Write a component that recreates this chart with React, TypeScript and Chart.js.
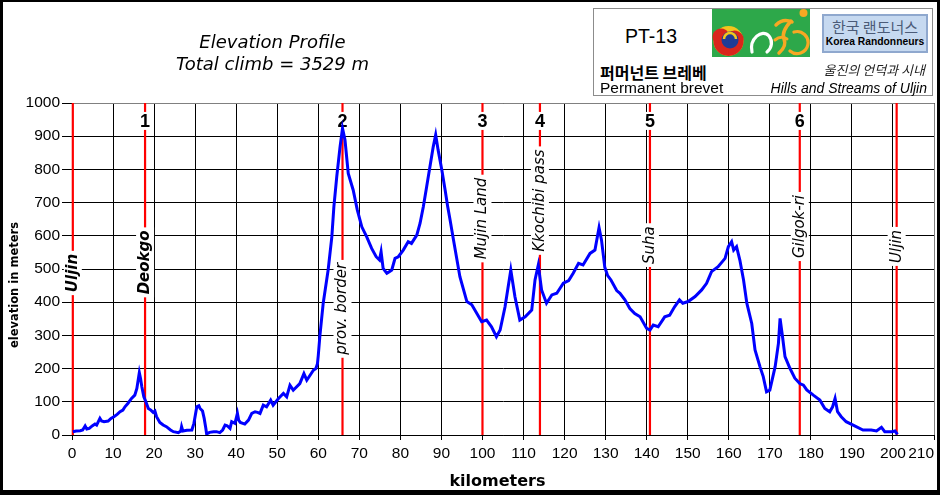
import React, { useEffect, useRef } from 'react';
import { Chart, registerables } from 'chart.js';

Chart.register(...registerables);

// ---- data ----
const PROFILE_KM = [
  0.2, 1.0, 2.0, 2.6, 3.2, 3.6, 4.2, 5.0, 5.6, 6.0, 6.8, 7.2, 7.8, 8.8, 9.5, 10.2, 11.0, 11.7, 12.4, 12.9,
  13.6, 14.5, 15.3, 15.8, 16.4, 16.7, 17.0, 17.5, 18.0, 18.6, 19.2, 19.8, 20.2, 20.6, 21.4, 22.2, 23.0, 24.0, 24.7, 25.9,
  26.5, 26.7, 27.0, 28.0, 29.2, 29.7, 30.4, 30.9, 31.2, 31.8, 32.2, 32.6, 32.8, 33.5, 34.5, 35.2, 36.0, 36.7, 37.3, 37.8,
  38.5, 38.9, 39.7, 40.3, 40.6, 41.0, 42.1, 43.0, 43.8, 44.6, 45.2, 45.8, 46.6, 47.4, 48.4, 49.0, 50.3, 51.5, 52.3, 53.1,
  53.9, 55.5, 56.5, 57.2, 58.0, 58.8, 59.4, 59.8, 60.0, 60.4, 61.2, 62.4, 63.3, 63.8, 64.5, 65.3, 65.9, 66.5, 67.3, 68.5,
  69.5, 70.6, 71.8, 73.0, 74.1, 74.9, 75.3, 75.8, 76.7, 77.3, 77.9, 78.7, 79.5, 80.7, 81.9, 82.7, 84.0, 84.8, 85.6, 86.4,
  87.2, 88.0, 88.6, 89.2, 90.1, 90.9, 91.5, 92.1, 92.9, 94.5, 96.2, 97.4, 98.6, 99.8, 101.0, 102.2, 103.4, 104.3, 105.5, 106.9,
  107.9, 109.1, 110.4, 112.0, 112.8, 113.6, 114.4, 115.6, 116.9, 118.1, 119.7, 121.0, 122.1, 123.4, 124.5, 126.2, 127.4, 128.4, 129.0, 129.8,
  130.5, 131.3, 132.7, 133.5, 134.7, 135.9, 137.1, 138.4, 140.0, 140.8, 141.6, 142.8, 144.4, 145.6, 146.8, 148.0, 148.8, 150.1, 151.8, 153.4,
  154.6, 155.8, 157.4, 159.1, 159.9, 160.7, 161.2, 161.9, 162.7, 163.6, 164.4, 165.6, 166.4, 167.6, 168.4, 169.2, 170.0, 171.3, 172.1, 172.5,
  173.1, 173.7, 174.9, 176.1, 177.3, 178.2, 179.0, 180.6, 182.2, 183.4, 184.6, 185.3, 185.9, 186.5, 187.4, 188.6, 190.3, 192.7, 194.7, 196.0,
  197.2, 198.0, 199.7, 200.5, 201.1,
];
const PROFILE_ELEV = [
  10, 12, 13, 15, 27, 18, 20, 28, 33, 30, 50, 42, 40, 42, 50, 55, 62, 70, 75, 85,
  95, 110, 120, 140, 188, 170, 146, 115, 100, 80, 75, 68, 72, 55, 38, 30, 25, 15, 10, 7,
  12, 25, 12, 14, 15, 35, 85, 88, 80, 72, 50, 20, 3, 8, 10, 10, 7, 15, 30, 28,
  20, 40, 35, 65, 45, 38, 33, 45, 65, 70, 68, 65, 90, 85, 105, 90, 110, 125, 115, 150,
  135, 155, 185, 165, 180, 195, 200, 215, 240, 300, 397, 497, 597, 688, 778, 868, 924, 889, 788, 738,
  678, 627, 597, 562, 537, 527, 552, 502, 487, 492, 497, 532, 537, 557, 582, 577, 602, 638, 688, 748,
  808, 868, 904, 858, 798, 738, 690, 648, 590, 477, 402, 392, 367, 341, 346, 326, 296, 316, 386, 497,
  417, 346, 356, 376, 467, 512, 437, 397, 422, 427, 457, 465, 487, 517, 512, 547, 557, 625, 587, 505,
  480, 467, 435, 427, 407, 381, 366, 356, 321, 316, 331, 326, 356, 361, 386, 407, 397, 402, 417, 437,
  457, 492, 507, 532, 567, 582, 557, 567, 527, 467, 397, 336, 256, 206, 176, 130, 135, 206, 276, 351,
  296, 236, 201, 171, 155, 150, 136, 120, 105, 80, 70, 85, 110, 70, 55, 40, 30, 15, 15, 12,
  23, 10, 10, 12, 2,
];
const MARKER_KM = [0.2, 17.8, 65.9, 100.0, 114.0, 140.8, 177.3, 200.9];
const MARKER_NAMES = ['Uljin', 'Deokgo', 'prov. border', 'Mujin Land', 'Kkochibi pass', 'Suha', 'Gilgok-ri', 'Uljin'];
const MARKER_NUMBERS = ['', '1', '2', '3', '4', '5', '6', ''];
const X_RANGE = [0, 210];
const X_STEP = 10;
const Y_RANGE = [0, 1000];
const Y_STEP = 100;
const TITLE_LINES = ['Elevation Profile', 'Total climb = 3529 m'];

// ---- layout for marker annotations (vertical placement, in elevation units) ----
const MARKER_LAYOUT = {
  labelAt: [488, 520, 380, 652, 706, 572, 628, 568],
  bold: [true, true, false, false, false, false, false, false],
  numberAt: 946,
};

const SANS = "'Liberation Sans', Arial, sans-serif";
const DEJA = "'DejaVu Sans', sans-serif";

const markerPlugin = {
  id: 'markerLines',
  beforeDatasetsDraw(chart: any) {
    const { ctx, chartArea: ca, scales } = chart;
    const xs = scales.x;
    const ys = scales.y;
    ctx.save();
    // grey top / right frame of plot area
    ctx.strokeStyle = '#808080';
    ctx.lineWidth = 1;
    ctx.beginPath();
    ctx.moveTo(ca.left, Math.round(ca.top) + 0.5);
    ctx.lineTo(Math.round(ca.right) + 0.5, Math.round(ca.top) + 0.5);
    ctx.lineTo(Math.round(ca.right) + 0.5, ca.bottom);
    ctx.stroke();

    MARKER_KM.forEach((km, i) => {
      const px = xs.getPixelForValue(km);
      ctx.strokeStyle = '#FF0000';
      ctx.lineWidth = 2.2;
      ctx.beginPath();
      ctx.moveTo(px, ca.top);
      ctx.lineTo(px, ca.bottom);
      ctx.stroke();

      const name = MARKER_NAMES[i];
      const ly = ys.getPixelForValue(MARKER_LAYOUT.labelAt[i]);
      ctx.save();
      ctx.translate(px, ly);
      ctx.rotate(-Math.PI / 2);
      ctx.font = `italic ${MARKER_LAYOUT.bold[i] ? 'bold ' : ''}15px ${DEJA}`;
      const w = ctx.measureText(name).width;
      ctx.fillStyle = '#FFFFFF';
      ctx.fillRect(-w / 2 - 3, -9, w + 6, 18);
      ctx.fillStyle = '#000000';
      ctx.textAlign = 'center';
      ctx.textBaseline = 'middle';
      ctx.fillText(name, 0, 0);
      ctx.restore();

      const num = MARKER_NUMBERS[i];
      if (num) {
        const ny = ys.getPixelForValue(MARKER_LAYOUT.numberAt);
        ctx.font = `bold 18px ${SANS}`;
        const nw = ctx.measureText(num).width;
        ctx.fillStyle = '#FFFFFF';
        ctx.fillRect(px - nw / 2 - 2, ny - 9, nw + 4, 18);
        ctx.fillStyle = '#000000';
        ctx.textAlign = 'center';
        ctx.textBaseline = 'middle';
        ctx.fillText(num, px, ny + 1);
      }
    });
    ctx.restore();
  },
};

function Logo() {
  const txt = (style: React.CSSProperties, s: string) => (
    <div style={{ position: 'absolute', whiteSpace: 'nowrap', lineHeight: '1', color: '#000', ...style }}>{s}</div>
  );
  return (
    <>
      <div
        style={{
          position: 'absolute', left: 593, top: 8, width: 340, height: 88,
          border: '1px solid #8c8c8c', boxSizing: 'border-box', background: '#fff',
        }}
      />
      {txt({ left: 625, top: 25, font: `19.5px ${SANS}` }, 'PT-13')}
      <svg style={{ position: 'absolute', left: 712, top: 9 }} width={98} height={48} viewBox="0 0 98 48">
        <rect width="98" height="48" fill="#2DA84A" />
        <circle cx="16.5" cy="32" r="15" fill="#F4C51C" />
        <path d="M1.5 32 A15 15 0 0 0 31.5 32 A9 9 0 0 0 16.5 24 A7 7 0 0 0 1.5 32 Z" fill="#D9261C" />
        <circle cx="18" cy="31" r="8.5" fill="#1F3C96" />
        <path d="M12 30 A6 6 0 0 1 24 30" stroke="#F4C51C" strokeWidth="2.5" fill="none" />
        <circle cx="19" cy="33" r="3" fill="#1F3C96" />
        <path d="M40 43 C37 30 50 19 57 27 C61 32 60 39 55 43" stroke="#FFFFFF" strokeWidth="3.2" fill="none" strokeLinecap="round" />
        <circle cx="91.5" cy="4" r="4" fill="#F7A823" />
        <path d="M64 16 Q71 9 80 13" stroke="#F7A823" strokeWidth="3.5" fill="none" strokeLinecap="round" />
        <path d="M79 12 Q69 23 72 30 Q75 37 67 44" stroke="#F7A823" strokeWidth="3.5" fill="none" strokeLinecap="round" />
        <path d="M63 31 Q69 26 75 30" stroke="#F7A823" strokeWidth="3" fill="none" strokeLinecap="round" />
        <path d="M82 23 A11 11 0 1 1 78 42" stroke="#F7A823" strokeWidth="3.2" fill="none" strokeLinecap="round" />
      </svg>
      <div
        style={{
          position: 'absolute', left: 822, top: 14, width: 106, height: 39,
          background: '#C6D9F0', border: '2px solid #8FA8CE', boxSizing: 'border-box',
        }}
      />
      {txt({ left: 822, width: 106, textAlign: 'center', top: 16, font: `15px 'Noto Sans CJK KR', sans-serif`, color: '#4B5B78' }, '한국 랜도너스')}
      {txt({ left: 822, width: 106, textAlign: 'center', top: 35.5, font: `bold 10.3px ${SANS}` }, 'Korea Randonneurs')}
      {txt({ left: 600, top: 59.5, font: `bold 16px 'Noto Sans CJK KR', sans-serif` }, '퍼머넌트 브레베')}
      {txt({ left: 600, top: 79, font: `15.5px ${SANS}` }, 'Permanent brevet')}
      {txt({ right: 940 - 925, top: 60, font: `italic 13px 'Noto Sans CJK KR', sans-serif`, color: '#222' }, '울진의 언덕과 시내')}
      {txt({ right: 940 - 927, top: 79.5, font: `italic 14px ${SANS}` }, 'Hills and Streams of Uljin')}
    </>
  );
}

export default function App() {
  const canvasRef = useRef<HTMLCanvasElement | null>(null);

  useEffect(() => {
    const canvas = canvasRef.current;
    if (!canvas) return;
    const points = PROFILE_KM.map((km, i) => ({ x: km, y: PROFILE_ELEV[i] }));
    const chart = new Chart(canvas, {
      type: 'line',
      data: {
        datasets: [
          {
            label: 'elevation',
            data: points,
            borderColor: '#0000FF',
            borderWidth: 3,
            pointRadius: 0,
            tension: 0,
            fill: false,
          },
        ],
      },
      options: {
        responsive: false,
        animation: false,
        devicePixelRatio: 1,
        layout: { padding: { left: 0, top: 103, right: 6, bottom: 0 } },
        plugins: {
          legend: { display: false },
          title: { display: false },
          tooltip: { enabled: false },
        },
        scales: {
          x: {
            type: 'linear',
            min: X_RANGE[0],
            max: X_RANGE[1],
            afterFit: (axis: any) => {
              axis.height = 60;
              axis.paddingLeft = 0;
              axis.paddingRight = 0;
            },
            ticks: {
              stepSize: X_STEP,
              color: '#000',
              padding: 4,
              font: { family: SANS, size: 15.5 },
              maxRotation: 0,
              autoSkip: false,
              // last label is kept inside the frame (shifted left like the original)
              callback: (v: any) => (v === X_RANGE[1] ? String(v) + '      ' : String(v)),
            },
            grid: { color: '#000', lineWidth: 1, tickLength: 5 },
            border: { color: '#000', width: 1 },
            title: {
              display: true,
              text: 'kilometers  ',
              color: '#000',
              font: { family: DEJA, size: 16, weight: 'bold' },
              padding: { top: 0, bottom: 4 },
            },
          },
          y: {
            type: 'linear',
            min: Y_RANGE[0],
            max: Y_RANGE[1],
            afterFit: (axis: any) => {
              axis.width = 72;
              axis.paddingTop = 0;
              axis.paddingBottom = 0;
            },
            ticks: {
              stepSize: Y_STEP,
              color: '#000',
              padding: 2,
              font: { family: SANS, size: 15.5 },
              callback: (v: any) => String(v),
            },
            grid: { color: '#000', lineWidth: 1, tickLength: 10 },
            border: { color: '#000', width: 1 },
            title: {
              display: true,
              text: 'elevation in meters        ',
              color: '#000',
              font: { family: DEJA, size: 11.5, weight: 'bold' },
              padding: { top: 8, bottom: 0 },
            },
          },
        },
      },
      plugins: [markerPlugin],
    } as any);
    return () => chart.destroy();
  }, []);

  return (
    <div style={{ position: 'absolute', left: 0, top: 0, width: 940, height: 495, background: '#fff', overflow: 'hidden' }}>
      <canvas ref={canvasRef} width={940} height={495} style={{ position: 'absolute', left: 0, top: 0, display: 'block' }} />
      <div style={{ position: 'absolute', left: 0, width: 545, top: 33, textAlign: 'center', font: `italic 18px ${DEJA}`, lineHeight: '1', color: '#000' }}>
        {TITLE_LINES[0]}
      </div>
      <div style={{ position: 'absolute', left: 0, width: 545, top: 55, textAlign: 'center', font: `italic 18px ${DEJA}`, lineHeight: '1', color: '#000' }}>
        {TITLE_LINES[1]}
      </div>
      <Logo />
      <div
        style={{
          position: 'absolute', left: 0, top: 0, width: 940, height: 495,
          borderStyle: 'solid', borderColor: '#000', borderWidth: '2px 3px 5px 3px',
          boxSizing: 'border-box', pointerEvents: 'none',
        }}
      />
    </div>
  );
}
